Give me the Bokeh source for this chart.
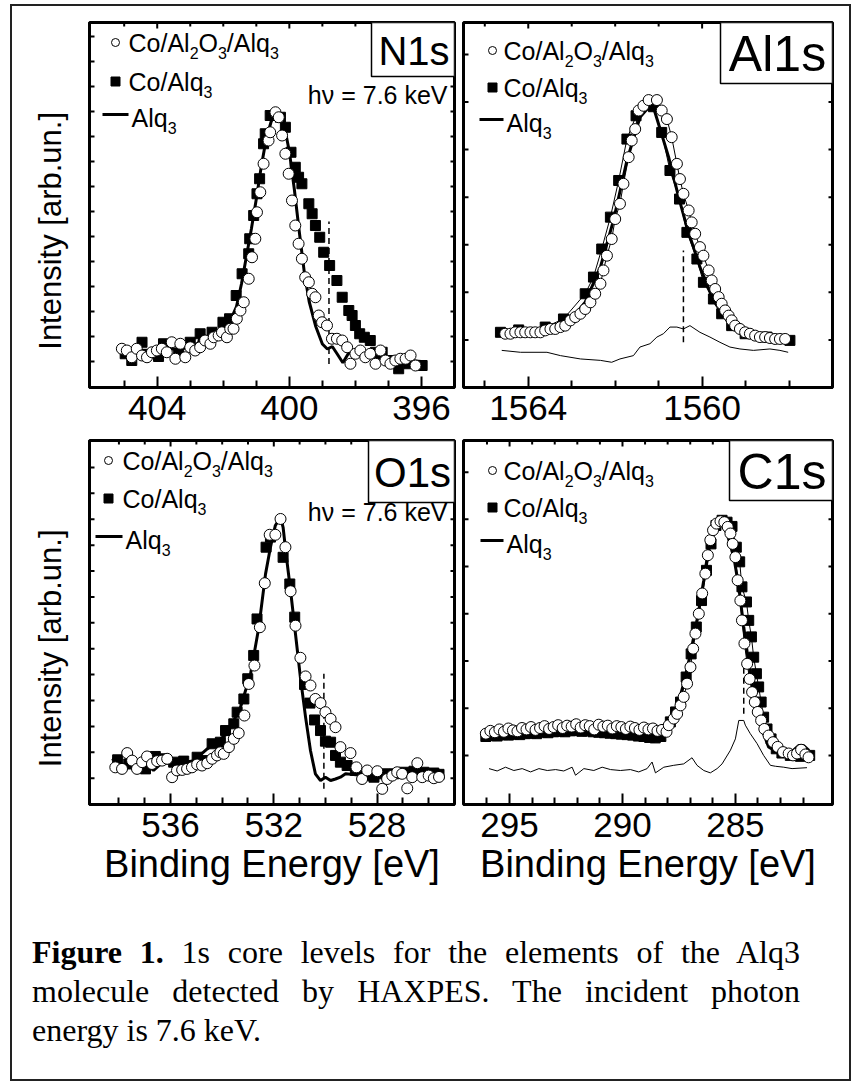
from bokeh.plotting import figure
from bokeh.models import Range1d, FixedTicker, Label, Div
from bokeh.layouts import column, row
from bokeh.embed import file_html
from bokeh.resources import INLINE

FONT = "Liberation Sans"

# ---------------- N1s ----------------
n1s_circ_x = [405.07, 404.92, 404.77, 404.62, 404.46, 404.31, 404.16, 404.01, 403.86, 403.71, 403.56, 403.45,
              403.30, 403.15, 403.0, 402.85, 402.70, 402.55, 402.39, 402.29, 402.14, 402.04, 401.89, 401.79,
              401.69, 401.59, 401.48, 401.38, 401.23, 401.13, 401.03, 400.98, 400.88, 400.78, 400.63, 400.58,
              400.42, 400.32, 400.22, 400.12, 400.02, 399.92, 399.82, 399.72, 399.62, 399.52, 399.41, 399.31,
              399.21, 399.11, 399.01, 398.86, 398.71, 398.56, 398.40, 398.25, 398.15, 398.0, 397.85, 397.70,
              397.55, 397.39, 397.24, 397.09, 396.94, 396.79, 396.64, 396.48, 396.33, 396.18]
n1s_circ_y = [1.51, 1.44, 1.17, 1.51, 1.24, 1.17, 1.37, 1.44, 1.51, 1.37, 1.77, 1.11,
              1.71, 1.17, 1.57, 1.44, 1.57, 1.84, 1.71, 1.97, 2.04, 2.17, 1.97, 2.31,
              2.31, 2.71, 3.04, 3.37, 4.31, 5.17, 5.91, 6.97, 7.77, 8.91, 9.84, 10.17,
              10.97, 10.77, 10.04, 9.31, 8.51, 7.44, 6.44, 5.71, 5.11, 4.37, 4.17, 3.71,
              3.57, 2.84, 2.57, 2.44, 1.91, 1.91, 1.84, 1.57, 0.91, 1.31, 1.44, 1.17,
              1.31, 0.91, 1.44, 1.04, 0.91, 1.04, 1.11, 1.11, 1.24, 0.84]
n1s_sq_x = [404.97, 404.77, 404.46, 403.96, 403.81, 403.35, 403.0, 402.70, 402.34, 402.01, 401.81, 401.61,
            401.43, 401.23, 401.20, 401.08, 400.98, 400.90, 400.78, 400.73, 400.58, 400.27, 400.12, 399.95,
            399.82, 399.72, 399.62, 399.41, 399.31, 399.21, 399.08, 398.96, 398.78, 398.56, 398.40, 398.20,
            398.10, 398.0, 397.87, 397.73, 397.55, 397.39, 397.19, 396.99, 396.69, 396.38, 395.98]
n1s_sq_y = [1.31, 1.04, 1.77, 1.2, 1.71, 1.31, 1.77, 2.11, 2.17, 2.57, 2.71, 3.64,
            4.51, 5.31, 5.91, 6.84, 7.71, 8.31, 9.71, 10.11, 10.84, 10.77, 10.37, 9.37,
            8.77, 8.37, 8.11, 7.31, 6.91, 6.44, 5.97, 5.37, 4.84, 4.24, 3.57, 3.04,
            2.84, 2.44, 2.11, 1.97, 1.84, 1.37, 1.37, 1.04, 0.71, 0.91, 0.84]
n1s_line_x = [405.0, 404.5, 404.0, 403.5, 403.0, 402.75, 402.65, 402.5, 402.3, 402.0, 401.8, 401.6, 401.45,
              401.3, 401.15, 401.0, 400.85, 400.7, 400.55, 400.4, 400.3, 400.15, 400.0, 399.85, 399.7,
              399.55, 399.4, 399.2, 399.0, 398.85, 398.7, 398.55, 398.38, 398.2, 398.0, 397.7, 397.4,
              397.0, 396.5, 396.0]
n1s_line_y = [1.52, 1.45, 1.45, 1.5, 1.55, 1.75, 2.2, 1.85, 1.9, 2.2, 2.6, 3.2, 4.1,
              5.2, 6.3, 7.5, 8.8, 9.9, 10.6, 11.0, 10.9, 10.4, 9.4, 7.9, 6.2,
              4.6, 3.4, 2.4, 1.7, 1.5, 1.6, 1.3, 0.95, 1.35, 1.3, 1.2, 1.15,
              1.1, 1.05, 1.0]
n1s_dash = [398.8, 0.9, 6.6]

# ---------------- Al1s ----------------
al_circ_x = [1564.53, 1564.41, 1564.30, 1564.18, 1564.07, 1563.95, 1563.84, 1563.72, 1563.61, 1563.49, 1563.38,
             1563.26, 1563.15, 1563.03, 1562.92, 1562.80, 1562.69, 1562.57, 1562.46, 1562.34, 1562.27, 1562.19,
             1562.08, 1562.0, 1561.89, 1561.81, 1561.69, 1561.62, 1561.54, 1561.46, 1561.35, 1561.23, 1561.04,
             1560.93, 1560.81, 1560.70, 1560.58, 1560.51, 1560.43, 1560.31, 1560.24, 1560.16, 1560.05, 1559.97,
             1559.85, 1559.78, 1559.70, 1559.62, 1559.55, 1559.47, 1559.39, 1559.32, 1559.24, 1559.13, 1559.01,
             1558.90, 1558.78, 1558.67, 1558.55, 1558.44, 1558.32, 1558.21, 1558.09]
al_circ_y = [1.13, 1.13, 1.16, 1.16, 1.16, 1.16, 1.16, 1.16, 1.20, 1.23, 1.23,
             1.27, 1.30, 1.41, 1.48, 1.55, 1.65, 1.79, 1.97, 2.18, 2.46, 2.77,
             3.12, 3.54, 3.86, 4.28, 4.84, 5.19, 5.43, 5.82, 5.92, 6.04, 6.04,
             5.82, 5.64, 5.26, 4.70, 4.38, 4.07, 3.72, 3.47, 3.23, 2.95, 2.77,
             2.46, 2.25, 2.07, 1.90, 1.76, 1.62, 1.51, 1.41, 1.30, 1.23, 1.16,
             1.13, 1.09, 1.06, 1.06, 1.04, 1.02, 1.02, 1.02]
al_sq_x = [1564.64, 1564.22, 1563.61, 1563.19, 1562.69, 1562.50, 1562.31, 1562.11, 1561.92, 1561.73, 1561.52,
           1561.12, 1560.93, 1560.74, 1560.52, 1560.35, 1560.12, 1559.97, 1559.74, 1559.55, 1559.32, 1559.01,
           1558.51, 1557.98]
al_sq_y = [1.16, 1.21, 1.27, 1.44, 1.97, 2.32, 2.91, 3.58, 4.35, 5.22, 5.71,
           5.90, 5.36, 4.56, 3.96, 3.26, 2.70, 2.21, 1.86, 1.55, 1.30, 1.13,
           1.06, 0.99]
al_line_x = [1564.61, 1563.42, 1563.03, 1562.69, 1562.34, 1562.04, 1561.73, 1561.43, 1561.20, 1561.12, 1560.77,
             1560.54, 1560.35, 1560.05, 1559.74, 1559.43, 1559.13, 1558.82, 1558.44, 1557.94]
al_line_y = [1.16, 1.23, 1.41, 1.79, 2.53, 3.51, 4.77, 5.68, 5.92, 5.89, 4.84,
             4.0, 3.37, 2.53, 1.83, 1.41, 1.16, 1.06, 1.02, 0.99]
al_diff_x = [1564.61, 1564.18, 1563.57, 1563.26, 1562.80, 1562.34, 1562.08, 1561.89, 1561.58, 1561.43, 1561.20,
             1561.04, 1560.89, 1560.74, 1560.58, 1560.43, 1560.28, 1560.05, 1559.82, 1559.59, 1559.36, 1559.13,
             1558.82, 1558.44, 1558.21, 1558.02]
al_diff_y = [0.78, 0.74, 0.74, 0.67, 0.60, 0.57, 0.53, 0.60, 0.67, 0.85, 0.92,
             1.06, 1.13, 1.27, 1.27, 1.23, 1.30, 1.16, 1.06, 0.95, 0.85, 0.81,
             0.78, 0.81, 0.78, 0.74]
al_dash = [1560.43, 0.95, 2.88]

# ---------------- O1s ----------------
o1s_circ_x = [538.14, 537.88, 537.68, 537.49, 537.30, 537.10, 536.91, 536.72, 536.52, 536.33, 536.13, 535.94,
              535.75, 535.55, 535.36, 535.17, 534.97, 534.78, 534.58, 534.39, 534.20, 534.07, 533.94, 533.74,
              533.55, 533.36, 533.14, 532.97, 532.75, 532.54, 532.35, 532.16, 531.94, 531.74, 531.55, 531.35,
              531.16, 530.97, 530.77, 530.58, 530.39, 530.19, 530.0, 529.80, 529.61, 529.42, 529.03, 528.80,
              528.58, 528.38, 527.99, 527.80, 527.61, 527.41, 527.22, 527.03, 526.83, 526.64, 526.44, 526.25,
              526.0, 525.8, 525.6]
o1s_circ_y = [1.42, 1.36, 1.97, 1.68, 1.36, 1.62, 1.84, 1.55, 1.66, 1.68, 1.75, 1.04,
              1.30, 1.32, 1.36, 1.42, 1.53, 1.49, 1.58, 1.75, 1.88, 2.0, 1.94, 2.20,
              2.52, 2.74, 3.42, 4.64, 5.35, 6.83, 8.53, 10.40, 10.40, 11.01, 9.92, 8.22,
              6.89, 5.65, 4.93, 4.58, 4.06, 3.90, 3.55, 3.29, 2.97, 2.20, 1.97, 1.42,
              0.97, 1.30, 1.27, 0.59, 0.97, 1.10, 1.23, 1.17, 0.61, 1.04, 1.58, 1.04,
              1.1, 1.0, 1.05]
o1s_sq_x = [538.05, 537.62, 536.97, 536.59, 536.26, 535.88, 535.49, 534.97, 534.71, 534.39, 534.07, 533.87,
            533.55, 533.42, 533.16, 533.01, 532.78, 532.65, 532.30, 532.13, 531.64, 531.38, 531.19, 530.81,
            530.60, 530.42, 530.19, 530.0, 529.80, 529.61, 529.42, 529.16, 528.84, 528.51, 528.12, 527.74,
            527.35, 526.96, 526.57, 526.19, 525.8, 525.6]
o1s_sq_y = [1.71, 1.55, 1.36, 1.84, 1.75, 1.62, 1.66, 1.81, 1.68, 2.33, 2.39, 2.84,
            3.10, 3.55, 4.06, 4.84, 5.74, 7.15, 9.92, 10.31, 9.53, 8.50, 7.22, 4.62,
            3.90, 3.25, 2.84, 2.43, 2.39, 1.88, 1.62, 1.49, 1.30, 1.10, 1.04, 1.17,
            1.17, 1.23, 1.27, 1.23, 1.2, 1.15]
o1s_line_x = [538.27, 537.9, 537.43, 537.0, 536.66, 536.3, 535.88, 535.5, 535.10, 534.58, 533.81, 533.29, 532.90,
              532.58, 532.32, 532.13, 531.94, 531.74, 531.64, 531.51, 531.35, 531.16, 530.97, 530.77,
              530.58, 530.39, 530.19, 530.0, 529.80, 529.61, 529.42, 529.22, 528.5, 527.5, 526.5, 525.6]
o1s_line_y = [1.75, 1.55, 1.49, 1.6, 1.30, 1.62, 1.55, 1.6, 1.68, 2.13, 2.71, 3.74, 5.03,
              6.83, 8.89, 9.92, 10.76, 11.08, 10.69, 9.53, 8.24, 6.57, 4.90, 3.36,
              2.07, 1.17, 0.91, 1.04, 0.91, 0.97, 1.04, 1.17, 1.1, 1.15, 1.1, 1.15]
o1s_dash = [530.06, 0.59, 5.03]

# ---------------- C1s ----------------
c1s_circ_x = [296.05, 295.85, 295.65, 295.45, 295.25, 295.05, 294.85, 294.65, 294.45, 294.25, 294.05,
              293.85, 293.65, 293.45, 293.25, 293.05, 292.85, 292.65, 292.45, 292.25, 292.05, 291.85,
              291.65, 291.45, 291.25, 291.05, 290.85, 290.65, 290.45, 290.25, 290.05, 289.85, 289.65,
              289.45, 289.25, 289.05, 288.85, 288.65, 288.45, 288.25, 288.05,
              287.95, 287.73, 287.58, 287.43, 287.29, 287.14, 286.99, 286.87, 286.77, 286.62, 286.47,
              286.33, 286.22, 286.11, 285.99, 285.84, 285.66, 285.49, 285.34, 285.22, 285.12, 285.0,
              284.90, 284.78, 284.71, 284.60, 284.48, 284.37, 284.26, 284.14, 284.01, 283.86, 283.72,
              283.53, 283.33, 283.13, 282.89, 282.64, 282.45, 282.27, 282.09, 281.90, 281.76]
c1s_circ_y = [1.46, 1.52, 1.49, 1.55, 1.50, 1.57, 1.53, 1.51, 1.58, 1.55, 1.60,
              1.54, 1.58, 1.62, 1.56, 1.60, 1.64, 1.58, 1.63, 1.61, 1.66, 1.59,
              1.64, 1.62, 1.55, 1.65, 1.61, 1.63, 1.57, 1.62, 1.60, 1.56, 1.61,
              1.58, 1.54, 1.59, 1.55, 1.57, 1.52, 1.54, 1.50,
              1.64, 1.78, 1.88, 2.06, 2.24, 2.52, 2.87, 3.26, 3.58, 4.0, 4.43,
              4.85, 5.24, 5.56, 5.77, 5.91, 5.96, 5.94, 5.84, 5.70, 5.48, 5.20,
              4.71, 4.28, 3.86, 3.37, 2.94, 2.62, 2.34, 2.13, 1.92, 1.74, 1.56,
              1.42, 1.28, 1.18, 1.07, 1.04, 1.0, 1.04, 1.12, 1.02, 0.96]
c1s_sq_x = [296.05, 295.8, 295.55, 295.3, 295.05, 294.8, 294.55, 294.3, 294.05, 293.8, 293.55, 293.3,
            293.05, 292.8, 292.55, 292.3, 292.05, 291.8, 291.55, 291.3, 291.05, 290.8, 290.55, 290.3,
            290.05, 289.8, 289.55, 289.3, 289.05, 288.8, 288.55, 288.3,
            287.88, 287.65, 287.43, 287.18, 286.96, 286.73, 286.50, 286.28, 286.08, 285.86, 285.59,
            285.37, 285.15, 284.96, 284.81, 284.71, 284.51, 284.41, 284.29, 284.19, 284.07, 283.97,
            283.86, 283.75, 283.60, 283.42, 283.19, 282.94, 282.57, 282.12, 281.71]
c1s_sq_y = [1.40, 1.42, 1.41, 1.44, 1.43, 1.45, 1.44, 1.46, 1.47, 1.46, 1.49, 1.48,
            1.50, 1.51, 1.50, 1.52, 1.53, 1.51, 1.52, 1.50, 1.49, 1.48, 1.47, 1.46,
            1.45, 1.44, 1.43, 1.41, 1.40, 1.38, 1.37, 1.40,
            1.71, 1.92, 2.13, 2.66, 3.15, 3.72, 4.28, 4.92, 5.48, 5.87, 5.98,
            5.94, 5.85, 5.41, 5.10, 4.57, 4.25, 3.86, 3.51, 3.08, 2.73, 2.45,
            2.13, 1.81, 1.56, 1.35, 1.14, 1.05, 1.0, 0.98, 1.0]
c1s_line_x = [296.06, 294.51, 293.04, 291.56, 290.09, 288.61, 288.32, 287.95, 287.58, 287.29, 286.99, 286.70,
              286.40, 286.18, 285.99, 285.81, 285.59, 285.37, 285.07, 284.85, 284.63, 284.41, 284.19, 283.97,
              283.75, 283.53, 283.16, 282.71, 282.42, 282.20, 281.98, 281.76, 281.65]
c1s_line_y = [1.39, 1.42, 1.46, 1.47, 1.45, 1.39, 1.35, 1.56, 2.02, 2.52, 3.15, 3.86,
              4.71, 5.41, 5.87, 5.98, 5.89, 5.70, 5.20, 4.57, 3.72, 2.94, 2.31, 1.81,
              1.46, 1.18, 1.07, 1.04, 1.11, 1.21, 1.21, 1.11, 0.96]
c1s_diff_x = [295.91, 295.55, 295.18, 294.81, 294.44, 294.07, 293.70, 293.33, 292.96, 292.60, 292.23, 292.08,
              291.71, 291.27, 290.90, 290.53, 290.09, 289.65, 289.28, 288.91, 288.69, 288.54, 288.17, 287.73,
              287.29, 286.92, 286.70, 286.40, 286.11, 285.81, 285.59, 285.22, 285.0, 284.85, 284.63, 284.56,
              284.34, 284.04, 283.75, 283.45, 283.23, 282.86, 282.49, 281.83]
c1s_diff_y = [0.72, 0.67, 0.75, 0.68, 0.72, 0.65, 0.72, 0.68, 0.70, 0.67, 0.75, 0.58,
              0.72, 0.68, 0.75, 0.70, 0.68, 0.70, 0.65, 0.72, 0.86, 0.63, 0.75, 0.79,
              0.82, 0.95, 0.79, 0.68, 0.63, 0.72, 0.82, 1.11, 1.35, 1.74, 1.74, 1.64,
              1.46, 1.25, 1.0, 0.79, 0.77, 0.75, 0.72, 0.74]
c1s_dash = [284.63, 1.88, 2.98]

photon_text = "hν = 7.6 keV"
x_title = "Binding Energy [eV]"
y_title = "Intensity [arb.un.]"

# Arial / Liberation Sans advance widths (per 1000 em)
CW = {"C": 722, "o": 556, "/": 278, "A": 667, "l": 222, "q": 556, "O": 778, "2": 556, "3": 556}


def tw(s, size):
    return sum(CW[c] for c in s) * size / 1000.0


def X(g, dx):
    return g["xs"] + dx / g["W"] * (g["xe"] - g["xs"])


def Y(g, dy):
    return g["ye"] - dy / g["H"] * (g["ye"] - g["ys"])


def label(p, x, y, s, size, align="left", baseline="middle", font=FONT):
    p.add_layout(Label(x=x, y=y, text=s, text_font=font, text_font_size=f"{size}px",
                       text_align=align, text_baseline=baseline, text_color="black"))


def make_panel(g, width, height, borders, xmaj, xmin, ymaj, ylabel, xlabel):
    p = figure(width=width, height=height, x_range=Range1d(g["xs"], g["xe"]),
               y_range=Range1d(g["ys"], g["ye"]), toolbar_location=None, output_backend="svg",
               min_border_left=borders[0], min_border_right=borders[1],
               min_border_top=borders[2], min_border_bottom=borders[3])
    p.xgrid.visible = False
    p.ygrid.visible = False
    p.outline_line_color = "black"
    p.outline_line_width = 3
    p.outline_line_alpha = 1
    p.background_fill_color = "white"
    p.border_fill_color = "white"

    ax = p.xaxis[0]
    ax.ticker = FixedTicker(ticks=xmaj, minor_ticks=xmin)
    ax.axis_line_width = 3
    ax.major_tick_out = 0
    ax.minor_tick_out = 0
    ax.major_tick_in = 11
    ax.minor_tick_in = 7
    ax.major_tick_line_width = 2
    ax.minor_tick_line_width = 2
    ax.major_label_text_font = FONT
    ax.major_label_text_font_size = "35px"
    ax.major_label_text_color = "black"
    ax.major_label_standoff = 8
    if xlabel:
        ax.axis_label = xlabel
        ax.axis_label_text_font = FONT
        ax.axis_label_text_font_size = "38px"
        ax.axis_label_text_font_style = "normal"
        ax.axis_label_text_color = "black"
        ax.axis_label_standoff = 3

    yl = p.yaxis[0]
    if ylabel:
        yl.ticker = FixedTicker(ticks=[])
        yl.axis_line_width = 3
        yl.major_tick_out = 0
        yl.major_tick_in = 0
        yl.minor_tick_out = 0
        yl.minor_tick_in = 0
        yl.major_label_standoff = 0
        # trailing no-break spaces push the visible title a little below the frame middle,
        # as in the source figure
        yl.axis_label = ylabel + "\u00a0" * 6
        yl.axis_label_text_font = FONT
        yl.axis_label_text_font_size = "31px"
        yl.axis_label_text_font_style = "normal"
        yl.axis_label_text_color = "black"
        yl.axis_label_standoff = 22
    else:
        yl.visible = False

    # inward ticks on the left, right and top edges (axis style)
    n = len(ymaj)
    p.segment(x0=[X(g, 0)] * n, y0=list(ymaj), x1=[X(g, 5)] * n, y1=list(ymaj),
              line_width=2, line_color="black")
    p.segment(x0=[X(g, g["W"] - 4)] * n, y0=list(ymaj), x1=[X(g, g["W"])] * n, y1=list(ymaj),
              line_width=2, line_color="black")
    tx = list(xmaj) + list(xmin)
    tl = [6] * len(xmaj) + [4] * len(xmin)
    p.segment(x0=tx, y0=[Y(g, 0)] * len(tx), x1=tx, y1=[Y(g, L) for L in tl], line_width=2,
              line_color="black")
    return p


def sub_text(p, g, dx, base_dy, parts, size=25, subsize=16):
    # base_dy: baseline position in px below the frame top
    cx = dx
    for s, is_sub in parts:
        if is_sub:
            label(p, X(g, cx), Y(g, base_dy + 7 - 0.35 * subsize), s, subsize)
            cx += tw(s, subsize)
        else:
            label(p, X(g, cx), Y(g, base_dy - 0.35 * size), s, size)
            cx += tw(s, size)


def legend(p, g, mx, tx, dys, line_x0):
    p.scatter(x=[X(g, mx)], y=[Y(g, dys[0])], marker="circle", size=8,
              fill_color="white", line_color="black", line_width=1)
    sub_text(p, g, tx, dys[0] + 9, [("Co/Al", False), ("2", True), ("O", False), ("3", True),
                                    ("/Alq", False), ("3", True)])
    p.scatter(x=[X(g, mx)], y=[Y(g, dys[1])], marker="square", size=9,
              fill_color="black", line_color="black")
    sub_text(p, g, tx, dys[1] + 9, [("Co/Alq", False), ("3", True)])
    p.line(x=[X(g, line_x0), X(g, tx)], y=[Y(g, dys[2]), Y(g, dys[2])], line_width=3, line_color="black")
    sub_text(p, g, tx + 3, dys[2] + 12, [("Alq", False), ("3", True)])


def name_box(p, g, dx0, dy1, text, size):
    x0, x1 = sorted([X(g, dx0), X(g, g["W"])])
    p.quad(left=[x0], right=[x1], top=[Y(g, 0)], bottom=[Y(g, dy1)], fill_color="white",
           line_color="black", line_width=1.5)
    label(p, X(g, (dx0 + g["W"]) / 2.0 + 1), Y(g, dy1 / 2.0 + 1), text, size, align="center")


def draw(p, cx, cy, sx, sy, lx, ly, dash, connect=False, diff=None):
    if diff is not None:
        p.line(x=diff[0], y=diff[1], line_width=1, line_color="black")
    p.segment(x0=[dash[0]], y0=[dash[1]], x1=[dash[0]], y1=[dash[2]], line_width=1.5,
              line_color="black", line_dash="6 4")
    p.line(x=lx, y=ly, line_width=3, line_color="black")
    if connect:
        p.line(x=sx, y=sy, line_width=1, line_color="black")
        p.line(x=cx, y=cy, line_width=1, line_color="black")
    p.scatter(x=sx, y=sy, marker="square", size=10, fill_color="black", line_color="black")
    p.scatter(x=cx, y=cy, marker="circle", size=11, fill_color="white", line_color="black", line_width=1)


G1 = dict(xs=406.05, xe=395.0, ys=-0.04, ye=14.56, W=365, H=365)
G2 = dict(xs=1565.49, xe=1557.0, ys=0.0, ye=7.67, W=369, H=365)
G3 = dict(xs=539.14, xe=525.0, ys=-0.015, ye=14.04, W=365, H=364)
G4 = dict(xs=297.04, xe=280.7, ys=-0.04, ye=7.67, W=369, H=364)

p1 = make_panel(G1, 446, 426, (77, 4, 16, 45), [404, 400, 396], [405, 403, 402, 401, 399, 398, 397],
                list(range(1, 15)), y_title, None)
draw(p1, n1s_circ_x, n1s_circ_y, n1s_sq_x, n1s_sq_y, n1s_line_x, n1s_line_y, n1s_dash)
legend(p1, G1, 26, 39, [20, 59, 92], 13)
name_box(p1, G1, 282, 54, "N1s", 40)
label(p1, X(G1, 358), Y(G1, 81 - 0.35 * 25), photon_text, 25, align="right")

p2 = make_panel(G2, 391, 426, (5, 17, 16, 45), [1564, 1560], [1565, 1563, 1562, 1561, 1559, 1558],
                list(range(1, 8)), None, None)
draw(p2, al_circ_x, al_circ_y, al_sq_x, al_sq_y, al_line_x, al_line_y, al_dash, connect=True,
     diff=(al_diff_x, al_diff_y))
legend(p2, G2, 29, 40, [28, 65, 97], 16)
name_box(p2, G2, 257, 61, "Al1s", 50)

p3 = make_panel(G3, 446, 468, (77, 4, 8, 96), [536, 532, 528],
                [538, 537, 535, 534, 533, 531, 530, 529, 527, 526],
                list(range(1, 14)), y_title, x_title)
draw(p3, o1s_circ_x, o1s_circ_y, o1s_sq_x, o1s_sq_y, o1s_line_x, o1s_line_y, o1s_dash)
legend(p3, G3, 19, 33, [20, 58, 96], 6)
name_box(p3, G3, 279, 62, "O1s", 42)
label(p3, X(G3, 358), Y(G3, 80 - 0.35 * 25), photon_text, 25, align="right")

p4 = make_panel(G4, 391, 468, (5, 17, 8, 96), [295, 290, 285],
                [296, 294, 293, 292, 291, 289, 288, 287, 286, 284, 283, 282],
                list(range(1, 8)), None, x_title)
draw(p4, c1s_circ_x, c1s_circ_y, c1s_sq_x, c1s_sq_y, c1s_line_x, c1s_line_y, c1s_dash, connect=True,
     diff=(c1s_diff_x, c1s_diff_y))
legend(p4, G4, 29, 40, [30, 67, 100], 17)
name_box(p4, G4, 266, 60, "C1s", 50)

caption_html = (
    "<div style=\"font-family:'Liberation Serif','Times New Roman',serif;font-size:32px;line-height:39px;"
    "color:#000;width:788px;margin:0;padding-left:20px;padding-top:33px;\">"
    "<div style='text-align:justify;text-align-last:justify;white-space:nowrap;'>"
    "<b>Figure 1.</b> 1s core levels for the elements of the Alq3</div>"
    "<div style='text-align:justify;text-align-last:justify;'>molecule detected by HAXPES. The incident photon</div>"
    "<div>energy is 7.6 keV.</div></div>"
)
cap = Div(text=caption_html, width=837, height=179, margin=0)

layout = column(row(p1, p2, spacing=0), row(p3, p4, spacing=0), cap, spacing=0,
                styles={"border": "2px solid #222", "margin-left": "10px", "margin-top": "4px",
                        "background-color": "white"})

open("out.html", "w").write(file_html(layout, INLINE))
